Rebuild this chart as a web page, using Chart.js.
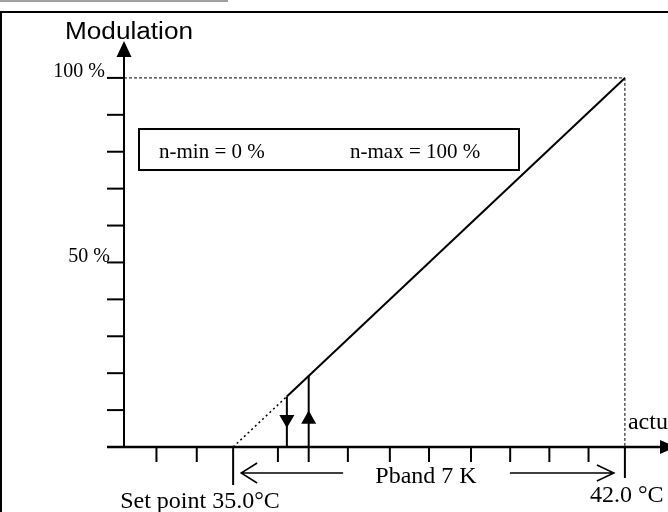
<!DOCTYPE html>
<html>
<head>
<meta charset="utf-8">
<script src="https://cdn.jsdelivr.net/npm/chart.js@4"></script>
<style>
  html, body { margin: 0; padding: 0; background: #fff; }
  canvas { display: block; }
</style>
</head>
<body>
<canvas id="modChart" width="668" height="512"></canvas>
<script>
// Modulation characteristic: set point 35.0 °C, Pband 7 K
const setPoint = 35.0;
const pbandEnd = 42.0;
const rampDotted = [{x: 35.0, y: 0}, {x: 35.96, y: 13.7}];
const rampSolid = [{x: 35.96, y: 13.7}, {x: 42.0, y: 100}];
const offSwitch = {x: 35.96, y: 13.7};
const onSwitch = {x: 36.35, y: 19.3};
const arrowLevel = 7.5;
const xTicks = [33.63, 34.35, 35.0, 35.8, 36.35, 37.05, 37.8, 38.5, 39.25, 39.95, 40.65, 41.35, 42.0];
const yTicks = [0, 10, 20, 30, 40, 50, 60, 70, 80, 90, 100];
const yLabels = ['100 %', '50 %'];
const yLabelValues = [100, 50];
const nMin = 0;
const nMax = 100;

const X_MIN = 33.05, X_MAX = 42.77;
const serif = 'Liberation Serif, Times New Roman, serif';
const sans = 'Liberation Sans, Arial, sans-serif';

function txt(ctx, s, x, y, font, align, fitW) {
    ctx.save();
    ctx.font = font;
    ctx.fillStyle = '#000';
    ctx.textBaseline = 'alphabetic';
    ctx.textAlign = align || 'left';
    if (fitW) {
        const w = ctx.measureText(s).width;
        ctx.translate(x, y);
        ctx.scale(fitW / w, 1);
        ctx.fillText(s, 0, 0);
    } else {
        ctx.fillText(s, x, y);
    }
    ctx.restore();
}

function tri(ctx, x1, y1, x2, y2, x3, y3) {
    ctx.beginPath();
    ctx.moveTo(x1, y1);
    ctx.lineTo(x2, y2);
    ctx.lineTo(x3, y3);
    ctx.closePath();
    ctx.fill();
}

const frame = {
    id: 'frame',
    beforeDraw(chart) {
        const ctx = chart.ctx;
        ctx.save();
        ctx.fillStyle = '#a0a0a0';
        ctx.fillRect(0, 0, 228, 2);
        ctx.strokeStyle = '#000';
        ctx.lineWidth = 2;
        ctx.strokeRect(1, 12, 720, 620);
        ctx.restore();
    }
};

const axes = {
    id: 'axes',
    afterDatasetsDraw(chart) {
        const ctx = chart.ctx;
        const x = chart.scales.x, y = chart.scales.y;
        const area = chart.chartArea;
        const ax = area.left, by = area.bottom;
        ctx.save();
        ctx.strokeStyle = '#000';
        ctx.fillStyle = '#000';
        ctx.lineCap = 'butt';

        // y axis with arrow
        ctx.lineWidth = 2;
        ctx.beginPath();
        ctx.moveTo(ax, by);
        ctx.lineTo(ax, area.top + 14);
        ctx.stroke();
        tri(ctx, ax, area.top, ax - 7.5, area.top + 16, ax + 7.5, area.top + 16);

        // x axis with arrow
        ctx.lineWidth = 2.5;
        ctx.beginPath();
        ctx.moveTo(ax - 17, by);
        ctx.lineTo(area.right, by);
        ctx.stroke();
        tri(ctx, area.right + 8, by, area.right - 8, by - 7, area.right - 8, by + 7);

        // y ticks
        ctx.lineWidth = 2;
        yTicks.forEach(v => {
            const py = y.getPixelForValue(v);
            ctx.beginPath();
            ctx.moveTo(ax - 17, py);
            ctx.lineTo(ax, py);
            ctx.stroke();
        });

        // x ticks (long marks at set point and end of Pband)
        xTicks.forEach(v => {
            const px = x.getPixelForValue(v);
            let len = 15;
            if (v === setPoint) len = 38;
            if (v === pbandEnd) len = 31;
            ctx.beginPath();
            ctx.moveTo(px, by);
            ctx.lineTo(px, by + len);
            ctx.stroke();
        });

        // y labels
        txt(ctx, yLabels[0], ax - 19, y.getPixelForValue(yLabelValues[0]) - 1, '20px ' + serif, 'right');
        txt(ctx, yLabels[1], ax - 14, y.getPixelForValue(yLabelValues[1]), '20px ' + serif, 'right');

        txt(ctx, 'Modulation', 65, 39, '23px ' + sans, 'left', 128);
        txt(ctx, 'actual value', x.getPixelForValue(pbandEnd) + 3, by - 18, '24px ' + serif, 'left');

        // Pband arrows
        const sx = x.getPixelForValue(setPoint), ex = x.getPixelForValue(pbandEnd);
        const ay = by + 26;
        ctx.lineWidth = 1.5;
        ctx.beginPath();
        ctx.moveTo(sx + 8, ay);
        ctx.lineTo(sx + 110, ay);
        ctx.moveTo(sx + 24, ay - 10);
        ctx.lineTo(sx + 8, ay);
        ctx.lineTo(sx + 24, ay + 10);
        ctx.moveTo(ex - 115, ay);
        ctx.lineTo(ex - 11, ay);
        ctx.moveTo(ex - 28, ay - 8);
        ctx.lineTo(ex - 11, ay);
        ctx.lineTo(ex - 28, ay + 8);
        ctx.stroke();
        txt(ctx, 'Pband ' + (pbandEnd - setPoint).toFixed(0) + ' K', (sx + ex) / 2 - 3, by + 36, '24px ' + serif, 'center');

        txt(ctx, 'Set point ' + setPoint.toFixed(1) + '°C', sx - 113, 508, '24px ' + serif, 'left');
        txt(ctx, pbandEnd.toFixed(1) + ' °C', ex - 35, 502, '24px ' + serif, 'left');

        // n-min / n-max box
        ctx.lineWidth = 2;
        ctx.strokeRect(ax + 15, 129, 380, 41);
        txt(ctx, 'n-min = ' + nMin + ' %', ax + 35, 158, '21px ' + serif, 'left');
        txt(ctx, 'n-max = ' + nMax + ' %', ax + 226, 158, '21px ' + serif, 'left');

        ctx.restore();
    }
};

new Chart(document.getElementById('modChart').getContext('2d'), {
    type: 'scatter',
    data: {
        datasets: [
            {
                data: rampDotted,
                showLine: true,
                borderColor: '#000',
                borderWidth: 1.5,
                borderDash: [2, 3],
                pointRadius: 0
            },
            {
                data: rampSolid,
                showLine: true,
                borderColor: '#000',
                borderWidth: 2,
                pointRadius: 0
            },
            {
                data: [{x: X_MIN, y: 100}, {x: pbandEnd, y: 100}],
                showLine: true,
                borderColor: '#000',
                borderWidth: 1,
                borderDash: [3, 2],
                pointRadius: 0
            },
            {
                data: [{x: pbandEnd, y: 100}, {x: pbandEnd, y: 0}],
                showLine: true,
                borderColor: '#000',
                borderWidth: 1,
                borderDash: [3, 2],
                pointRadius: 0
            },
            {
                // switch-off arrow (down)
                data: [offSwitch, {x: offSwitch.x, y: arrowLevel}, {x: offSwitch.x, y: 0}],
                showLine: true,
                borderColor: '#000',
                borderWidth: 2,
                pointStyle: 'triangle',
                pointRotation: 180,
                pointRadius: [0, 8.7, 0],
                pointBorderWidth: 0,
                pointBackgroundColor: '#000'
            },
            {
                // switch-on arrow (up)
                data: [{x: onSwitch.x, y: 0}, {x: onSwitch.x, y: arrowLevel}, onSwitch],
                showLine: true,
                borderColor: '#000',
                borderWidth: 2,
                pointStyle: 'triangle',
                pointRotation: 0,
                pointRadius: [0, 8.7, 0],
                pointBorderWidth: 0,
                pointBackgroundColor: '#000'
            }
        ]
    },
    options: {
        responsive: false,
        animation: false,
        layout: { padding: { left: 124, right: 0, top: 41, bottom: 65 } },
        plugins: {
            legend: { display: false },
            tooltip: { enabled: false }
        },
        scales: {
            x: { type: 'linear', min: X_MIN, max: X_MAX, display: false },
            y: { min: 0, max: 110, display: false }
        }
    },
    plugins: [frame, axes]
});
</script>
</body>
</html>
